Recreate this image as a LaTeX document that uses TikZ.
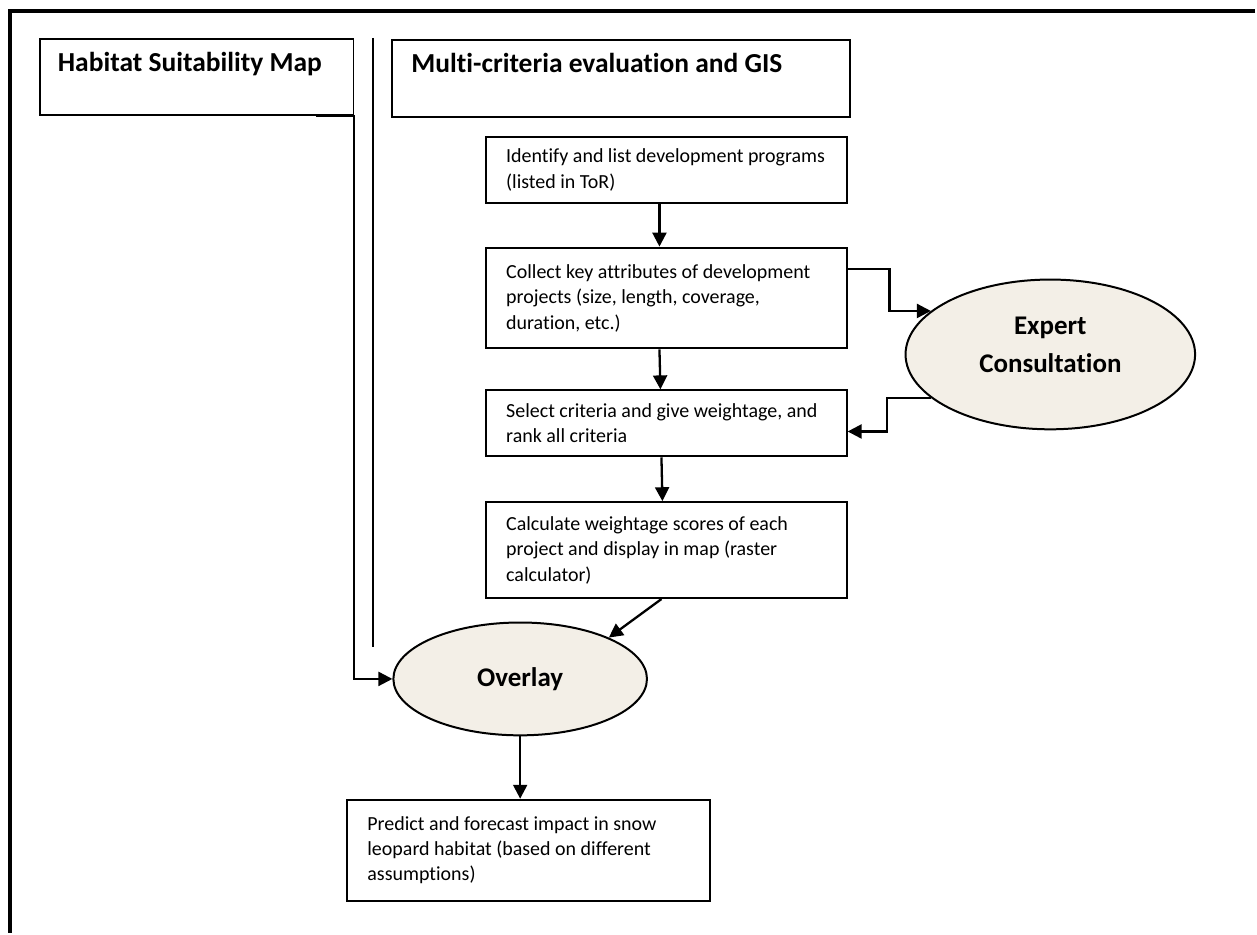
\documentclass[tikz,border=0pt]{standalone}
\usepackage{fontspec}
\setmainfont{Carlito}[Ligatures=NoCommon]
\usetikzlibrary{positioning, calc, arrows.meta, shapes.geometric}
\definecolor{ovalbeige}{RGB}{243,239,231}

\begin{document}
\begin{tikzpicture}[x=1pt, y=-1pt,
    headbox/.style={draw, line width=1.8pt, font=\fontsize{27.5}{32}\selectfont\bfseries, align=left, inner ysep=0pt, text height=33pt, text depth=43pt, execute at begin node={\spaceskip=0pt\xspaceskip=0pt}},
    stepbox/.style={draw, line width=2pt, font=\fontsize{20}{25.5}\selectfont, align=left, text width=321pt, inner xsep=20pt, inner ysep=0pt, execute at begin node={\spaceskip=0pt\xspaceskip=0pt}},
    oval/.style={ellipse, draw, line width=2pt, fill=ovalbeige, font=\fontsize{27}{38}\selectfont\bfseries, align=center},
    ovaltext/.style={font=\fontsize{27}{38}\selectfont\bfseries, align=center},
    arrow/.style={-{Triangle[length=14pt, width=14pt]}, line width=2.3pt}]
    \fill[white] (0,0) rectangle (1257,934);

    % frame and divider
    \draw[line width=4pt] (1257,11.5) -- (10,11.5) -- (10,934);
    \draw[line width=1.2pt] (373.5,38) -- (373.5,648);

    % headers
    \node[headbox, text width=278pt, inner xsep=18pt] (habitat) at (197,77) {Habitat Suitability Map};
    \node[headbox, text width=420pt, inner xsep=19pt, text depth=44pt] (multi) at (622,78.5) {Multi-criteria evaluation and GIS};

    % steps
    \node[stepbox, minimum height=66pt] (identify) at (667.5,170) {Identify and list development programs\\(listed in ToR)};
    \node[stepbox, minimum height=101pt, below=43pt of identify] (collect) {Collect key attributes of development\\projects (size, length, coverage,\\duration, etc.)};
    \node[stepbox, minimum height=66pt, below=40pt of collect] (select) {Select criteria and give weightage, and\\rank all criteria};
    \node[stepbox, minimum height=96pt, below=44pt of select] (scores) {Calculate weightage scores of each\\project and display in map (raster\\calculator)};
    \node[stepbox, text width=323pt, minimum height=101pt] (predict) at (529.5,851.5) {Predict and forecast impact in snow\\leopard habitat (based on different\\assumptions)};

    % ovals
    \node[oval, minimum width=290pt, minimum height=150pt] (expert) at (1052,355) {};
    \node[ovaltext] (experttext) at ([yshift=10pt]expert.center) {Expert\\Consultation};
    \node[oval, minimum width=254pt, minimum height=113pt] (overlay) at (521,680) {Overlay};

    % connectors
    \draw[arrow] ([xshift=-38pt]habitat.south east) -- (habitat.south east) |- (overlay.west);
    \draw[arrow] ([xshift=-7pt]identify.south) -- ([xshift=-7pt]collect.north);
    \draw[arrow] ([xshift=-7pt]collect.south) -- ([xshift=-6pt]select.north);
    \draw[arrow] ([xshift=-5pt]select.south) -- ([xshift=-4pt]scores.north);
    \draw[arrow] ([xshift=-5pt]scores.south) -- (overlay.25);
    \draw[arrow] ($(collect.north east)!0.22!(collect.south east)$) -- ++(42,0) |- (expert.160);
    \draw[arrow] (expert.200) -- ++(-44,0) |- ($(select.north east)!0.62!(select.south east)$);
    \draw[arrow] (overlay.south) -- (overlay.south |- predict.north);
\end{tikzpicture}
\end{document}
